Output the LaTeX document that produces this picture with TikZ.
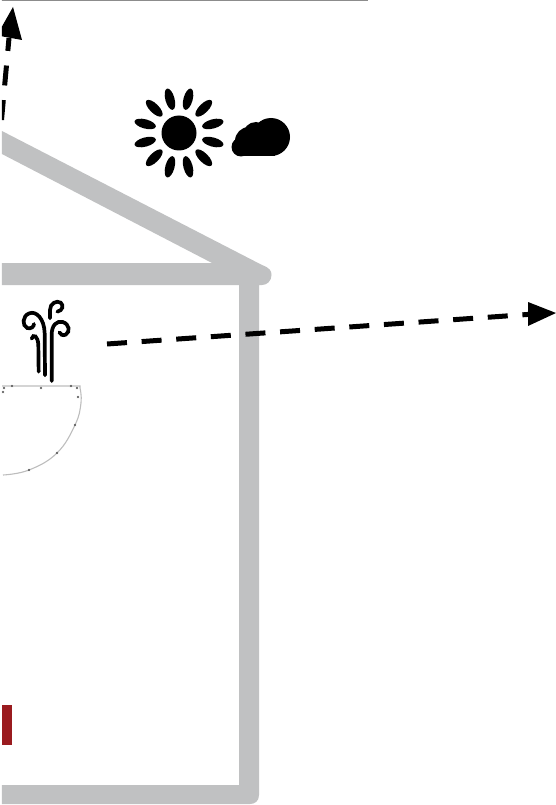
\documentclass[tikz,border=0pt]{standalone}
\usetikzlibrary{calc}
\definecolor{wallgray}{HTML}{C0C1C2}
\definecolor{doorred}{HTML}{9A1B1F}
\definecolor{doorline}{HTML}{BDBDBD}
\tikzset{
  wall/.style={fill=wallgray,draw=none},
  flow/.style={draw=black,line width=5pt,dash pattern=on 20pt off 14.7pt},
  tiphead/.style={fill=black,draw=none},
  icon/.style={fill=black,draw=none},
  windline/.style={draw=black,line width=3.7pt,line cap=round},
  doorstroke/.style={draw=doorline,line width=1.1pt},
  doortick/.style={draw=black!65,line width=0.5pt}
}
\begin{document}
\begin{tikzpicture}[x=1pt,y=-1pt]
\useasboundingbox (0,0) rectangle (556,805);
\clip (1.8,0) rectangle (556,805);
% top rule
\fill[black!45] (0,0) rectangle (368,1.5);
% house
\fill[wall] (0,130) -- (262,265) .. controls (270,268) and (271.5,271) .. (271.5,275)
  .. controls (271.5,281) and (267,285) .. (262,285) -- (259,285) -- (259,795)
  .. controls (259,801) and (255,804) .. (250,804) -- (0,804) -- (0,785) -- (239,785) -- (239,285)
  -- (0,285) -- (0,263) -- (212,263) -- (0,153) -- cycle;
% flow arrows
\coordinate (hs) at (107,344);
\coordinate (he) at (530,314.3);
\draw[flow] (hs) -- (he);
\fill[tiphead] (556,313) -- (528,326) -- (528,302) -- cycle;
\coordinate (vs) at (1.5,120);
\coordinate (ve) at (9,38);
\draw[flow] (vs) -- (ve);
\fill[tiphead] (13,7) -- (22,40) -- (0,36) -- (0,30) -- cycle;
% sun
\coordinate (sun) at (179,133);
\fill[icon] (sun) circle (17.5);
\foreach \a in {15,45,...,345}{
  \fill[icon,shift={(sun)},rotate=\a] (35,0) ellipse (11 and 4.6);
}
% cloud
\fill[icon] (271,137) circle (19);
\fill[icon] (256,135) circle (13);
\fill[icon] (249,141) circle (14);
\fill[icon] (241,147) circle (9.5);
\fill[icon] (241,146) rectangle (275,156.5);
% wind
\begin{scope}[x=0.3333pt,y=-0.3333pt,yshift=-290pt]
\begin{scope}[y=-0.3333pt]
\draw[windline] (135,256) -- (134,130) .. controls (133,85) and (108,62) .. (88,70) .. controls (66,78) and (66,108) .. (82,114) .. controls (92,118) and (102,110) .. (102,102);
\draw[windline] (116,245) -- (115,165) .. controls (114,138) and (100,130) .. (95,146);
\draw[windline] (155,273) -- (155,135) .. controls (155,105) and (170,92) .. (188,96) .. controls (208,102) and (212,125) .. (197,134) .. controls (188,138) and (180,133) .. (178,127);
\draw[windline] (150,85) -- (150,60) .. controls (150,40) and (170,30) .. (182,38) .. controls (192,46) and (188,62) .. (172,65);
\end{scope}
\end{scope}
% door
\coordinate (dl) at (2,386);
\coordinate (dr) at (80,386);
\draw[doorstroke] (dl) -- (dr) -- (80,388) plot[smooth,tension=0.7] coordinates {(80,388) (81,403) (75,425) (57,453) (29,470) (3,475)};
\foreach \p in {(4,388),(3,392),(12,386),(41,388),(71,386),(77,388),(78,397),(75,425),(57,453),(29,470)}{
  \draw[doortick] \p ++(-1,-1) -- ++(2,2) ++(-2,0) -- ++(2,-2);
}
% red element
\fill[doorred] (2,705) rectangle (11.5,745);
\end{tikzpicture}
\end{document}
